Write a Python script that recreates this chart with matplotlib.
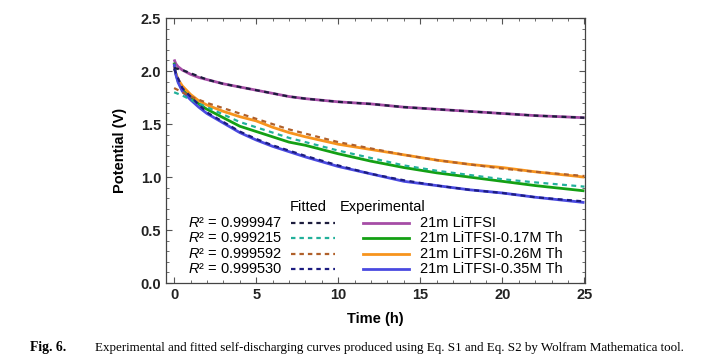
import matplotlib
matplotlib.use('Agg')
import matplotlib.pyplot as plt
from matplotlib.ticker import MultipleLocator, FormatStrFormatter

# experimental curves (time in h, potential in V)
t_exp = [0, 0.1, 0.25, 0.5, 1, 1.5, 2, 3, 4, 5, 6, 7, 8, 10, 12, 14, 16, 18, 20, 22, 25]
v_litfsi = [2.11, 2.07, 2.04, 2.01, 1.97, 1.94, 1.92, 1.88, 1.85, 1.82, 1.79, 1.76, 1.74,
            1.71, 1.69, 1.66, 1.64, 1.62, 1.60, 1.58, 1.56]
v_017 = [2.08, 1.98, 1.90, 1.83, 1.75, 1.69, 1.64, 1.56, 1.48, 1.43, 1.38, 1.33, 1.30,
         1.22, 1.15, 1.09, 1.04, 1.00, 0.96, 0.92, 0.87]
v_026 = [2.05, 1.98, 1.92, 1.86, 1.78, 1.72, 1.68, 1.62, 1.57, 1.53, 1.47, 1.42, 1.38,
         1.31, 1.26, 1.21, 1.16, 1.12, 1.09, 1.05, 1.00]
v_035 = [2.07, 1.97, 1.89, 1.81, 1.73, 1.66, 1.60, 1.51, 1.42, 1.35, 1.29, 1.24, 1.19,
         1.10, 1.03, 0.96, 0.92, 0.88, 0.85, 0.81, 0.76]

# fitted curves
t_fit = [0, 0.5, 1, 2, 3, 4, 5, 6, 7, 8, 10, 12, 14, 16, 18, 20, 22, 25]
f_litfsi = [2.03, 2.01, 1.98, 1.92, 1.88, 1.85, 1.82, 1.79, 1.76, 1.74, 1.71, 1.69, 1.66,
            1.64, 1.62, 1.60, 1.58, 1.56]
f_017 = [1.80, 1.77, 1.73, 1.66, 1.59, 1.52, 1.47, 1.42, 1.37, 1.33, 1.25, 1.18, 1.11,
         1.06, 1.02, 0.98, 0.95, 0.91]
f_026 = [1.84, 1.80, 1.76, 1.70, 1.65, 1.60, 1.55, 1.50, 1.45, 1.41, 1.33, 1.27, 1.21,
         1.16, 1.12, 1.08, 1.05, 1.01]
f_035 = [2.02, 1.84, 1.76, 1.61, 1.52, 1.43, 1.36, 1.30, 1.25, 1.20, 1.11, 1.03, 0.97,
         0.92, 0.88, 0.85, 0.81, 0.77]

labels = ['21m LiTFSI', '21m LiTFSI-0.17M Th', '21m LiTFSI-0.26M Th', '21m LiTFSI-0.35M Th']
r2_values = ['0.999947', '0.999215', '0.999592', '0.999530']

exp_colors = ['#A64DA6', '#14A014', '#F7941D', '#4A4AE0']
fit_colors = ['#1C1C3C', '#22B09A', '#B0602A', '#1C1C80']

plt.rcParams['font.family'] = ['Liberation Sans', 'DejaVu Sans']
plt.rcParams['mathtext.fontset'] = 'custom'
plt.rcParams['mathtext.it'] = 'Liberation Sans:italic'
plt.rcParams['mathtext.rm'] = 'Liberation Sans'

fig = plt.figure(figsize=(7.06, 3.62), dpi=100)
ax = fig.add_axes([0.235, 0.218, 0.594, 0.732])

exp_series = [v_litfsi, v_017, v_026, v_035]
fit_series = [f_litfsi, f_017, f_026, f_035]

for v, c in zip(exp_series, exp_colors):
    ax.plot(t_exp, v, color=c, lw=2.0, solid_capstyle='butt')
for v, c in zip(fit_series, fit_colors):
    ax.plot(t_fit, v, color=c, lw=1.6, dashes=(2.2, 2.0))

ax.set_xlim(-0.5, 25.05)
ax.set_ylim(0, 2.5)
ax.xaxis.set_major_locator(MultipleLocator(5))
ax.xaxis.set_minor_locator(MultipleLocator(1))
ax.yaxis.set_major_locator(MultipleLocator(0.5))
ax.yaxis.set_minor_locator(MultipleLocator(0.1))
ax.yaxis.set_major_formatter(FormatStrFormatter('%.1f'))
ax.tick_params(which='both', direction='in', top=True, right=True, color='#555555')
ax.tick_params(which='major', length=4, width=0.8, labelsize=10.5, labelcolor='#222222')
ax.tick_params(which='minor', length=2, width=0.6)
for lab in ax.get_xticklabels() + ax.get_yticklabels():
    lab.set_fontweight('bold')
for s in ax.spines.values():
    s.set_color('#444444')
    s.set_linewidth(0.9)

ax.set_xlabel('Time (h)', fontsize=10.5, fontweight='bold', labelpad=7)
ax.set_ylabel('Potential (V)', fontsize=10.5, fontweight='bold', labelpad=10)

# hand-made legend block, placed in data coordinates
ax.text(8.2, 0.72, 'Fitted', fontsize=10.5, ha='center', va='center')
ax.text(12.7, 0.72, 'Experimental', fontsize=10.5, ha='center', va='center')
row_y = [0.566, 0.425, 0.274, 0.132]
for i, y in enumerate(row_y):
    ax.text(6.6, y, r'$\mathit{R}$' + '\u00b2 = ' + r2_values[i], fontsize=10.5,
            ha='right', va='center')
    ax.plot([7.1, 9.8], [y, y], color=fit_colors[i], lw=1.6, dashes=(2.0, 1.8))
    ax.plot([11.5, 14.3], [y, y], color=exp_colors[i], lw=2.0)
    ax.text(15.0, y, labels[i], fontsize=10.5, ha='left', va='center')

fig.text(0.042, 0.039, 'Fig. 6.', fontsize=9.8, fontweight='bold', family='Liberation Serif',
         ha='left', va='center')
fig.text(0.134, 0.039, 'Experimental and fitted self-discharging curves produced using Eq. S1 '
         'and Eq. S2 by Wolfram Mathematica tool.', fontsize=9.4, family='Liberation Serif',
         ha='left', va='center')

fig.savefig('out.png', dpi=100)
